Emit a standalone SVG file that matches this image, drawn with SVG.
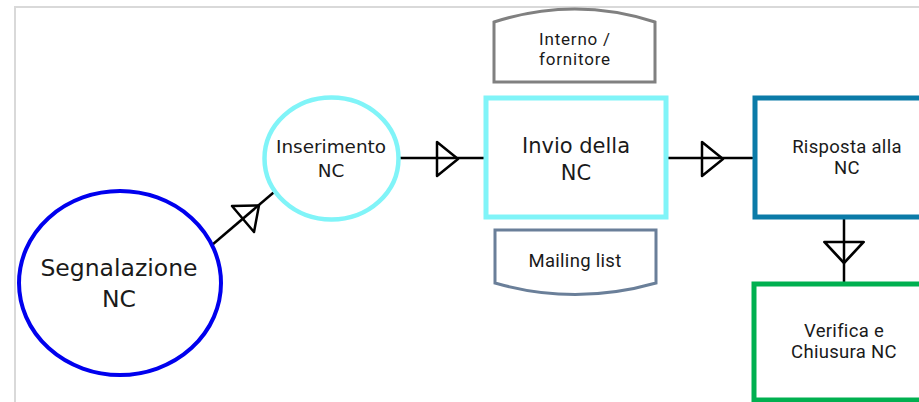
<svg xmlns="http://www.w3.org/2000/svg" xmlns:xlink="http://www.w3.org/1999/xlink" width="919" height="402" viewBox="0 0 919 402">
<style>
.lbl{font-family:"DejaVu Sans",sans-serif;fill:#1a1a1a;text-anchor:middle}
.rb{font-family:Roboto,"Liberation Sans",sans-serif;fill:#1a1a1a;text-anchor:middle;font-size:18.5px;letter-spacing:0.3px}
.sm{font-size:17px;letter-spacing:0.8px}
.con{stroke:#000;stroke-width:2.5;fill:none;stroke-linecap:round}
.arr{stroke:#000;stroke-width:2.5;fill:none;stroke-linejoin:round}
</style>
<defs>
<path id="tri" d="M0,-17 L0,17 L21,0 Z"/>
</defs>
<rect width="919" height="402" fill="#fff"/>
<path d="M15,402 L15,7 L919,7" fill="none" stroke="#d9d9d9" stroke-width="2"/>

<g id="connectors">
<line class="con" x1="212" y1="245" x2="273" y2="193"/>
<use href="#tri" xlink:href="#tri" class="arr" transform="translate(243,219) rotate(-40.4)"/>
<line class="con" x1="398" y1="158" x2="485" y2="158"/>
<use href="#tri" xlink:href="#tri" class="arr" transform="translate(437,159)"/>
<line class="con" x1="667" y1="158" x2="752" y2="158"/>
<use href="#tri" xlink:href="#tri" class="arr" transform="translate(702,159)"/>
<line class="con" x1="844" y1="218" x2="844" y2="282"/>
<use href="#tri" xlink:href="#tri" class="arr" transform="translate(844,242) rotate(90) scale(1,1.15)"/>
</g>

<g id="segnalazione">
<ellipse cx="120" cy="283" rx="101" ry="92" fill="#fff" stroke="#0000ee" stroke-width="4"/>
<text class="lbl" x="119" y="276" font-size="23.5">Segnalazione</text>
<text class="lbl" x="119" y="307" font-size="23.5">NC</text>
</g>

<g id="inserimento">
<ellipse cx="331.5" cy="158.5" rx="67" ry="61" fill="#fff" stroke="#80f4f8" stroke-width="4.5"/>
<text class="lbl" x="331" y="153" font-size="18.4">Inserimento</text>
<text class="lbl" x="331" y="177" font-size="18.4">NC</text>
</g>

<g id="interno">
<path d="M494,82 L494,22 Q575,-4 655,22 L655,82 Z" fill="#fff" stroke="#808080" stroke-width="3"/>
<text class="rb sm" x="575" y="45">Interno /</text>
<text class="rb sm" x="575" y="65">fornitore</text>
</g>

<g id="invio">
<rect x="486" y="98" width="180" height="119" fill="#fff" stroke="#80f4f8" stroke-width="5"/>
<text class="lbl" x="576" y="153" font-size="21">Invio della</text>
<text class="lbl" x="576" y="180" font-size="21">NC</text>
</g>

<g id="mailing">
<path d="M495,230 L656,230 L656,283 Q575,306 495,283 Z" fill="#fff" stroke="#6a7f99" stroke-width="3"/>
<text class="rb" x="575" y="267">Mailing list</text>
</g>

<g id="risposta">
<rect x="755" y="98" width="190" height="119" fill="#fff" stroke="#0b7ba8" stroke-width="5"/>
<text class="rb" x="847" y="153">Risposta alla</text>
<text class="rb" x="847" y="174">NC</text>
</g>

<g id="verifica">
<rect x="754" y="284" width="190" height="116" fill="#fff" stroke="#00b050" stroke-width="5"/>
<text class="rb" x="844" y="337">Verifica e</text>
<text class="rb" x="844" y="358">Chiusura NC</text>
</g>
</svg>
